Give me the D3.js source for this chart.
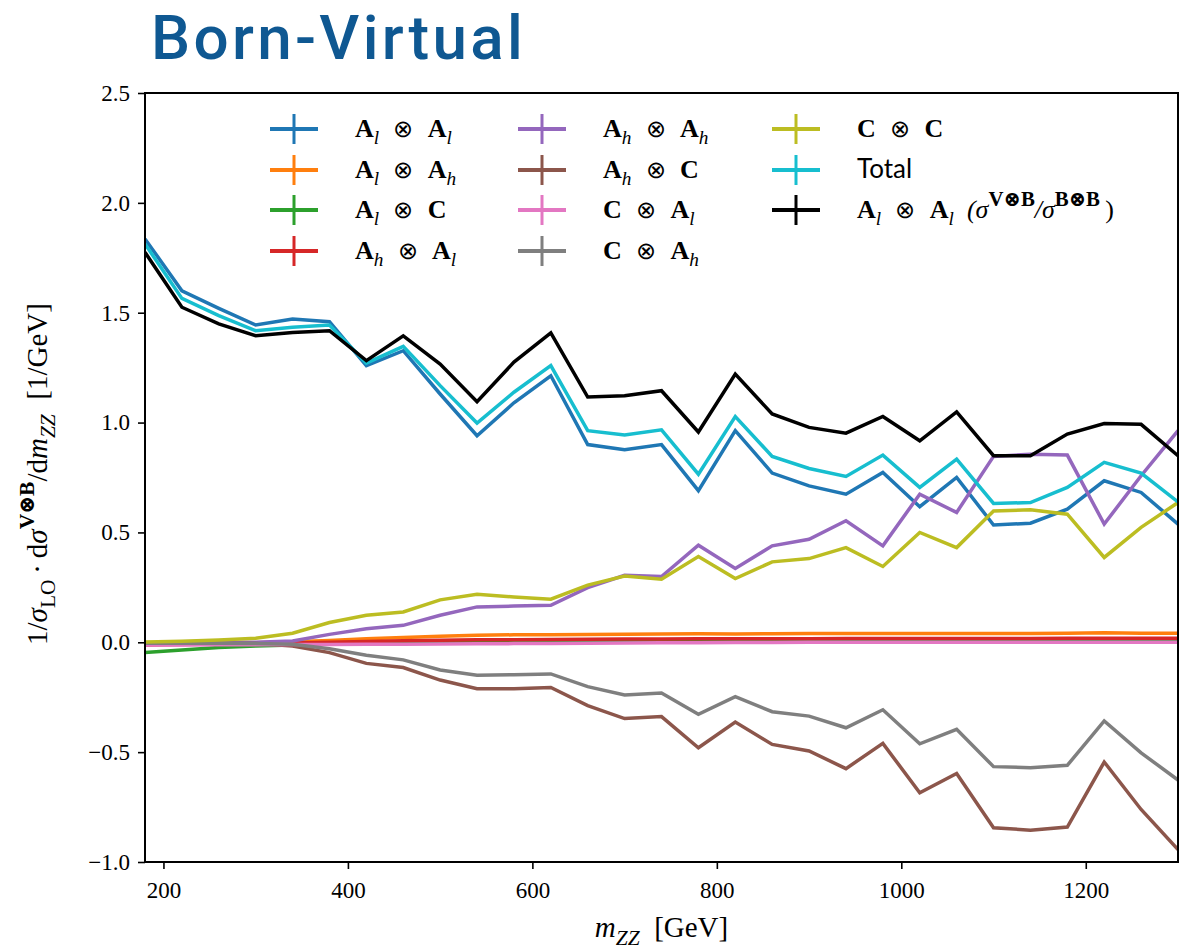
<!DOCTYPE html>
<html>
<head>
<meta charset="utf-8">
<script src="https://cdn.jsdelivr.net/npm/d3@7"></script>
<style>
  html, body { margin: 0; padding: 0; background: #fff; }
  svg { display: block; }
</style>
</head>
<body>
<svg id="chart" width="1197" height="950"></svg>
<script>
// Invariant mass bins (GeV)
const mZZ = [180, 220, 260, 300, 340, 380, 420, 460, 500, 540, 580, 620, 660, 700, 740,
             780, 820, 860, 900, 940, 980, 1020, 1060, 1100, 1140, 1180, 1220, 1260, 1300];

// Normalised distributions per colour/amplitude combination
const AlAl = [1.836, 1.60, 1.52, 1.444, 1.471, 1.459, 1.259, 1.327, 1.13, 0.94, 1.09, 1.213, 0.90, 0.876, 0.90,
              0.69, 0.963, 0.77, 0.712, 0.674, 0.773, 0.617, 0.75, 0.534, 0.542, 0.606, 0.735, 0.682, 0.538];
const AlAh = [-0.008, -0.006, -0.004, -0.002, 0.002, 0.008, 0.016, 0.022, 0.027, 0.032, 0.034, 0.034, 0.036, 0.037, 0.038,
              0.039, 0.038, 0.039, 0.04, 0.04, 0.04, 0.04, 0.04, 0.04, 0.04, 0.041, 0.043, 0.041, 0.041];
const AlC  = [-0.047, -0.035, -0.024, -0.017, -0.012, -0.008, -0.004, -0.001, 0.001, 0.002, 0.003, 0.003, 0.004, 0.004, 0.004,
              0.004, 0.005, 0.005, 0.005, 0.005, 0.005, 0.005, 0.005, 0.005, 0.005, 0.005, 0.005, 0.005, 0.005];
const AhAl = [-0.012, -0.01, -0.008, -0.006, -0.003, 0.0, 0.004, 0.007, 0.009, 0.011, 0.012, 0.013, 0.014, 0.015, 0.015,
              0.016, 0.016, 0.016, 0.016, 0.017, 0.017, 0.017, 0.017, 0.017, 0.017, 0.018, 0.018, 0.018, 0.018];
const AhAh = [-0.003, -0.002, 0.0, 0.0, 0.006, 0.036, 0.062, 0.077, 0.123, 0.161, 0.165, 0.168, 0.249, 0.305, 0.299,
              0.442, 0.336, 0.439, 0.469, 0.553, 0.439, 0.674, 0.591, 0.846, 0.856, 0.852, 0.538, 0.758, 0.963];
const AhC  = [-0.004, -0.004, -0.005, -0.006, -0.017, -0.047, -0.096, -0.115, -0.172, -0.211, -0.211, -0.206, -0.288, -0.347, -0.338,
              -0.48, -0.363, -0.465, -0.495, -0.575, -0.46, -0.685, -0.597, -0.844, -0.855, -0.841, -0.545, -0.761, -0.943];
const CAl  = [-0.012, -0.012, -0.011, -0.011, -0.01, -0.01, -0.009, -0.009, -0.008, -0.007, -0.006, -0.005, -0.004, -0.003, -0.002,
              -0.002, -0.001, -0.001, 0.0, 0.0, 0.0, 0.0, 0.0, 0.0, 0.0, 0.0, 0.0, 0.0, 0.0];
const CAh  = [-0.004, -0.004, -0.004, -0.005, -0.009, -0.029, -0.059, -0.08, -0.126, -0.15, -0.148, -0.144, -0.202, -0.24, -0.231,
              -0.328, -0.247, -0.316, -0.336, -0.389, -0.307, -0.462, -0.396, -0.566, -0.571, -0.56, -0.358, -0.503, -0.627];
const CC   = [0.001, 0.005, 0.01, 0.018, 0.041, 0.09, 0.123, 0.138, 0.193, 0.219, 0.206, 0.196, 0.26, 0.302, 0.287,
              0.39, 0.29, 0.366, 0.381, 0.431, 0.345, 0.50, 0.431, 0.598, 0.603, 0.583, 0.386, 0.523, 0.636];
const Total = [1.813, 1.565, 1.487, 1.418, 1.434, 1.444, 1.271, 1.347, 1.168, 0.998, 1.138, 1.259, 0.963, 0.943, 0.967,
               0.765, 1.027, 0.846, 0.791, 0.755, 0.852, 0.705, 0.834, 0.632, 0.636, 0.705, 0.819, 0.77, 0.639];
const AlAlRatio = [1.775, 1.525, 1.449, 1.395, 1.41, 1.418, 1.282, 1.395, 1.266, 1.095, 1.275, 1.408, 1.116, 1.122, 1.145,
                   0.957, 1.221, 1.039, 0.978, 0.952, 1.028, 0.917, 1.049, 0.849, 0.849, 0.948, 0.996, 0.992, 0.849];

const xTicks = [200, 400, 600, 800, 1000, 1200];
const yTicks = [-1.0, -0.5, 0.0, 0.5, 1.0, 1.5, 2.0, 2.5];

// Legend label pieces: b = bold, i = italic, sub/sup = shifted
const A = s => [{t: "A", b: true}, {t: s, i: true, sub: true}];
const C = [{t: "C", b: true}];
const OT = [{t: "\u2002\u200a\u2297\u2002\u200a", op: true}];
const series = [
  {values: AlAl, color: "#1f77b4", label: [...A("l"), ...OT, ...A("l")]},
  {values: AlAh, color: "#ff7f0e", label: [...A("l"), ...OT, ...A("h")]},
  {values: AlC,  color: "#2ca02c", label: [...A("l"), ...OT, ...C]},
  {values: AhAl, color: "#d62728", label: [...A("h"), ...OT, ...A("l")]},
  {values: AhAh, color: "#9467bd", label: [...A("h"), ...OT, ...A("h")]},
  {values: AhC,  color: "#8c564b", label: [...A("h"), ...OT, ...C]},
  {values: CAl,  color: "#e377c2", label: [...C, ...OT, ...A("l")]},
  {values: CAh,  color: "#7f7f7f", label: [...C, ...OT, ...A("h")]},
  {values: CC,   color: "#bcbd22", label: [...C, ...OT, ...C]},
  {values: Total, color: "#17becf", label: [{t: "Total", sans: true}]},
  {values: AlAlRatio, color: "#000000", label: [...A("l"), ...OT, ...A("l"), {t: "\u2002(\u03c3", i: true},
      {t: "V\u2297B", b: true, sup: true, big: true}, {t: "/\u03c3", i: true},
      {t: "B\u2297B", b: true, sup: true, big: true}, {t: "\u2009)"}]}
];

const SERIF = "'Liberation Serif', 'DejaVu Serif', serif";
const SANS = "Lato, 'Open Sans', 'DejaVu Sans', sans-serif";

const svg = d3.select("#chart");
const W = 1197, H = 950;
svg.append("rect").attr("width", W).attr("height", H).attr("fill", "#fff");

const plot = {left: 145, right: 1178, top: 93, bottom: 862};
const x = d3.scaleLinear().domain([180, 1300]).range([plot.left, plot.right]);
const y = d3.scaleLinear().domain([-1.0, 2.5]).range([plot.bottom, plot.top]);

// Rich text helper for math-style labels
function richText(sel, segs, fs) {
  let cur = 0;
  segs.forEach(s => {
    const target = s.sub ? fs * 0.28 : (s.sup ? -fs * 0.45 : 0);
    const ts = sel.append("tspan").text(s.t).attr("dy", target - cur);
    cur = target;
    if (s.sub || s.sup) ts.attr("font-size", fs * (s.big ? 0.8 : 0.74));
    if (s.b) ts.attr("font-weight", "bold");
    if (s.i) ts.attr("font-style", "italic");
    if (s.sans) ts.attr("font-family", SANS);
    if (s.op) ts.attr("font-family", "'DejaVu Sans', sans-serif").attr("font-weight", 200).attr("font-size", fs * 0.92);
  });
}

// Title
svg.append("text")
  .attr("x", 151).attr("y", 59)
  .attr("font-family", "Roboto, 'Open Sans', sans-serif")
  .attr("font-weight", 500)
  .attr("font-size", 62)
  .attr("letter-spacing", 3.3)
  .attr("fill", "#0f5892")
  .text("Born-Virtual");

// Clip region for the curves
svg.append("defs").append("clipPath").attr("id", "plotClip")
  .append("rect")
  .attr("x", plot.left).attr("y", plot.top)
  .attr("width", plot.right - plot.left).attr("height", plot.bottom - plot.top);

const line = d3.line().x((d, i) => x(mZZ[i])).y(d => y(d));
const curves = svg.append("g").attr("clip-path", "url(#plotClip)");
series.forEach(s => {
  curves.append("path")
    .datum(s.values)
    .attr("d", line)
    .attr("fill", "none")
    .attr("stroke", s.color)
    .attr("stroke-width", 3.5)
    .attr("stroke-linejoin", "miter");
});

// Axes
const xAxis = d3.axisBottom(x).tickValues(xTicks).tickSize(7).tickPadding(8).tickFormat(d3.format("d"));
const yAxis = d3.axisLeft(y).tickValues(yTicks).tickSize(7).tickPadding(8)
  .tickFormat(d => (d < 0 ? "\u2212" : "") + d3.format(".1f")(Math.abs(d)));

const gx = svg.append("g").attr("transform", `translate(0,${plot.bottom})`).call(xAxis);
const gy = svg.append("g").attr("transform", `translate(${plot.left},0)`).call(yAxis);
[gx, gy].forEach(g => {
  g.select(".domain").remove();
  g.selectAll(".tick line").attr("stroke", "#000").attr("stroke-width", 1.6);
  g.selectAll(".tick text").attr("font-family", SERIF).attr("font-size", 23).attr("fill", "#000");
});
gx.selectAll(".tick text").attr("dy", "0.9em");

// Frame
svg.append("rect")
  .attr("x", plot.left).attr("y", plot.top)
  .attr("width", plot.right - plot.left).attr("height", plot.bottom - plot.top)
  .attr("fill", "none").attr("stroke", "#000").attr("stroke-width", 2);

// Axis labels
const xl = svg.append("text")
  .attr("x", (plot.left + plot.right) / 2).attr("y", 937)
  .attr("text-anchor", "middle")
  .attr("font-family", SERIF).attr("font-size", 29);
richText(xl, [{t: "m", i: true}, {t: "ZZ", i: true, sub: true}, {t: "\u2002[GeV]"}], 29);

const yl = svg.append("text")
  .attr("transform", `translate(47,474) rotate(-90)`)
  .attr("text-anchor", "middle")
  .attr("font-family", SERIF).attr("font-size", 29);
richText(yl, [
  {t: "1/"}, {t: "\u03c3", i: true}, {t: "LO", sub: true}, {t: "\u2009\u00b7\u2009d"}, {t: "\u03c3", i: true},
  {t: "V\u2297B", b: true, sup: true}, {t: "/d"}, {t: "m", i: true},
  {t: "ZZ", i: true, sub: true}, {t: "\u2002[1/GeV]"}
], 29);

// Legend: three columns, filled column-wise
const legCols = [270, 518, 772];
const legRows = [129, 170, 210, 251];
const legendOrder = [[0, 1, 2, 3], [4, 5, 6, 7], [8, 9, 10]];
const leg = svg.append("g");
legendOrder.forEach((col, ci) => {
  col.forEach((si, ri) => {
    const s = series[si];
    const lx = legCols[ci], ly = legRows[ri];
    const g = leg.append("g");
    g.append("line").attr("x1", lx).attr("x2", lx + 48).attr("y1", ly).attr("y2", ly)
      .attr("stroke", s.color).attr("stroke-width", 4);
    g.append("line").attr("x1", lx + 24).attr("x2", lx + 24).attr("y1", ly - 15).attr("y2", ly + 15)
      .attr("stroke", s.color).attr("stroke-width", 3);
    const t = g.append("text").attr("x", lx + 85).attr("y", ly + 8)
      .attr("font-family", SERIF).attr("font-size", 26).attr("fill", "#000");
    richText(t, s.label, 26);
  });
});
</script>
</body>
</html>
